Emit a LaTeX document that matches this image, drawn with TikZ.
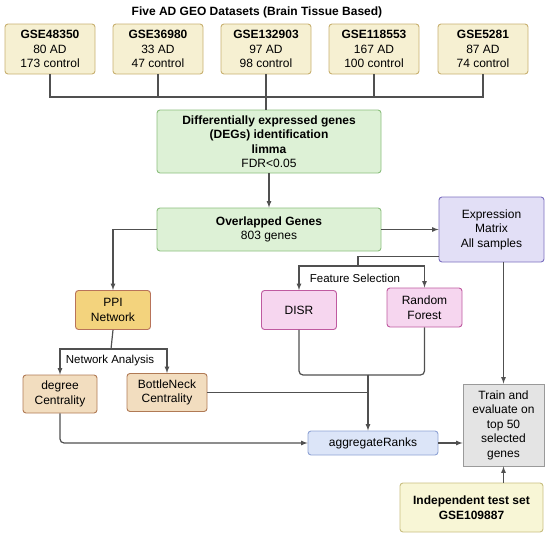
\documentclass[tikz,border=0pt]{standalone}
\usepackage{fontspec}
\setmainfont{Liberation Sans}
\usepackage{tikz}
\usetikzlibrary{arrows,positioning,calc,shapes}
\tikzset{>=latex}

\definecolor{linec}{HTML}{505050}
\definecolor{geofill}{HTML}{F6F0D2}\definecolor{geodraw}{HTML}{C8B070}
\definecolor{grnfill}{HTML}{DDF1D6}\definecolor{grndraw}{HTML}{8CBF7E}
\definecolor{matfill}{HTML}{E2DFF6}\definecolor{matdraw}{HTML}{7C70C0}
\definecolor{ppifill}{HTML}{F3D37D}\definecolor{ppidraw}{HTML}{B8735A}
\definecolor{cenfill}{HTML}{F2DDBF}\definecolor{cendraw}{HTML}{B07A55}
\definecolor{selfill}{HTML}{F6D6EF}\definecolor{seldraw}{HTML}{BF5AA0}
\definecolor{rnkfill}{HTML}{DCE5F8}\definecolor{rnkdraw}{HTML}{8FA3D5}
\definecolor{evlfill}{HTML}{E4E4E4}\definecolor{evldraw}{HTML}{9A9A9A}
\definecolor{tstfill}{HTML}{F8F6D6}\definecolor{tstdraw}{HTML}{C8BE80}

\tikzset{
  box/.style={draw, rounded corners=3pt, align=center, inner sep=0pt, line width=0.9pt,
    font=\fontsize{12}{14.5}\selectfont},
  geobox/.style={box, fill=geofill, draw=geodraw, minimum width=90pt, minimum height=50pt},
  grnbox/.style={box, fill=grnfill, draw=grndraw, minimum width=224pt},
  matbox/.style={box, fill=matfill, draw=matdraw, minimum width=105pt, minimum height=65pt},
  ppibox/.style={box, fill=ppifill, draw=ppidraw, minimum width=75pt, minimum height=39pt},
  cenbox/.style={box, fill=cenfill, draw=cendraw, minimum height=38pt},
  selbox/.style={box, fill=selfill, draw=seldraw, minimum width=75pt, minimum height=39pt},
  rnkbox/.style={box, fill=rnkfill, draw=rnkdraw, minimum width=130pt, minimum height=24pt},
  evlbox/.style={box, rounded corners=0pt, fill=evlfill, draw=evldraw, minimum width=81pt, minimum height=82pt},
  tstbox/.style={box, fill=tstfill, draw=tstdraw, minimum width=143pt, minimum height=49pt},
  lbl/.style={font=\fontsize{11.5}{14}\selectfont, inner sep=1pt}
}

\begin{document}
\begin{tikzpicture}[x=1pt, y=-1pt]
\useasboundingbox (0,0) rectangle (550,538);

\node[font=\fontsize{12}{14.5}\selectfont\bfseries] (title) at (257,12) {Five AD GEO Datasets (Brain Tissue Based)};
\node[geobox] (g1) at (50,49) {\textbf{GSE48350}\\80 AD\\173 control};
\node[geobox] (g2) at (158,49) {\textbf{GSE36980}\\33 AD\\47 control};
\node[geobox] (g3) at (266,49) {\textbf{GSE132903}\\97 AD\\98 control};
\node[geobox] (g4) at (374,49) {\textbf{GSE118553}\\167 AD\\100 control};
\node[geobox] (g5) at (483,49) {\textbf{GSE5281}\\87 AD\\74 control};

\node[grnbox, minimum height=63pt] (deg) at (269,141.5) {\textbf{Differentially expressed genes}\\\textbf{(DEGs) identification}\\\textbf{limma}\\FDR<0.05};
\node[grnbox, minimum height=43pt] (ovl) at (269,229.5) {\textbf{Overlapped Genes}\\803 genes};
\node[matbox] (expr) at (491.5,229.5) {Expression\\Matrix\\All samples};

\node[ppibox] (ppi) at (113,310) {PPI\\Network};
\node[cenbox, minimum width=74pt] (dc) at (60,394) {degree\\Centrality};
\node[cenbox, minimum width=80pt] (bn) at (167,392.5) {BottleNeck\\Centrality};

\node[selbox] (disr) at (299,310) {DISR};
\node[selbox] (rf) at (424.5,307.5) {Random\\Forest};

\node[rnkbox] (agg) at (373,443) {aggregateRanks};
\node[evlbox] (train) at (503.5,425) {Train and\\evaluate on\\top 50\\selected\\genes};
\node[tstbox] (test) at (471.5,507.5) {\textbf{Independent test set}\\\textbf{GSE109887}};

\coordinate (bus) at (266,97);
\coordinate (fs) at (358,266);
\coordinate (na) at (111,349);
\coordinate (fsj) at (368,375);

\node[lbl] (fslbl) at (355,278) {Feature Selection};
\node[lbl] (nalbl) at (110,361) {Network Analysis};

\begin{scope}[line width = 1.2pt, color=linec]
\draw (g1.south) |- (bus);
\draw (g2.south) |- (bus);
\draw (g4.south) |- (bus);
\draw (g5.south) |- (bus);
\draw (g3.south) -- (g3.south |- deg.north);
\draw[->] (deg.south) -- (ovl.north);
\draw[->] (ovl.east) -- (expr.west);
\draw[->] (ovl.west) -| (ppi.north);
\draw ([yshift=6pt]expr.south west) -| (fs);
\draw[->] (fs) -| (disr.north);
\draw[->] (fs) -| (rf.north);
\draw[->] (train.north |- expr.south) -- (train.north);
\draw (ppi.south) -- (na);
\draw[->] (na) -| (dc.north);
\draw[->] (na) -| (bn.north);
\draw[rounded corners=4pt] (disr.south) |- (fsj);
\draw[rounded corners=4pt] (rf.south) |- (fsj);
\draw[->] (fsj) -- (fsj |- agg.north);
\draw (bn.east) -- (bn.east -| fsj);
\draw[->, rounded corners=4pt] (dc.south) |- (agg.west);
\draw[->] (agg.east) -- (agg.east -| train.west);
\draw[->] (train.south |- test.north) -- (train.south);
\end{scope}
%\draw[help lines] (0,0) grid[step=50] (550,538);
\end{tikzpicture}
\end{document}
